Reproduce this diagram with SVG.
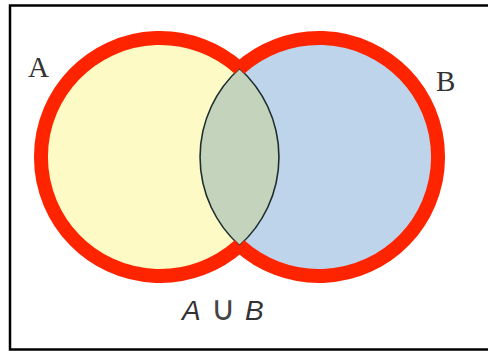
<svg xmlns="http://www.w3.org/2000/svg" width="488" height="352" viewBox="0 0 488 352">
<style>
.lbl{font-family:"Liberation Serif",serif;font-size:29px;fill:#333}
.f{font-family:"Liberation Sans","DejaVu Sans",sans-serif;font-style:italic;font-size:28px;fill:#333}
.u{font-family:"Noto Sans","DejaVu Sans",sans-serif;font-style:normal;font-size:34px;fill:#444}
.red{fill:none;stroke:#ff2400;stroke-width:14;stroke-linecap:butt}
</style>
<rect x="0" y="0" width="488" height="352" fill="#fff"/>
<rect x="10" y="5.5" width="500" height="344" fill="#fff" stroke="#000" stroke-width="2.5"/>
<g id="A">
<circle cx="160" cy="157" r="119" fill="#fdfac6"/>
</g>
<g id="B">
<circle cx="319" cy="157" r="119" fill="#bed4ea"/>
</g>
<g id="AB">
<path d="M239.5 68.5 A119 119 0 0 1 239.5 245.5 A119 119 0 0 1 239.5 68.5 Z" fill="#c4d4bc" stroke="#1e2e2e" stroke-width="1.6"/>
</g>
<g id="connectors">
<path class="red" d="M239.5 68.5 A119 119 0 1 0 239.5 245.5"/>
<path class="red" d="M239.5 68.5 A119 119 0 1 1 239.5 245.5"/>
</g>
<text class="lbl" x="28" y="77">A</text>
<text class="lbl" x="436" y="91">B</text>
<text class="f" y="320"><tspan x="182">A</tspan><tspan class="u" x="211">∪</tspan><tspan x="245">B</tspan></text>
</svg>
